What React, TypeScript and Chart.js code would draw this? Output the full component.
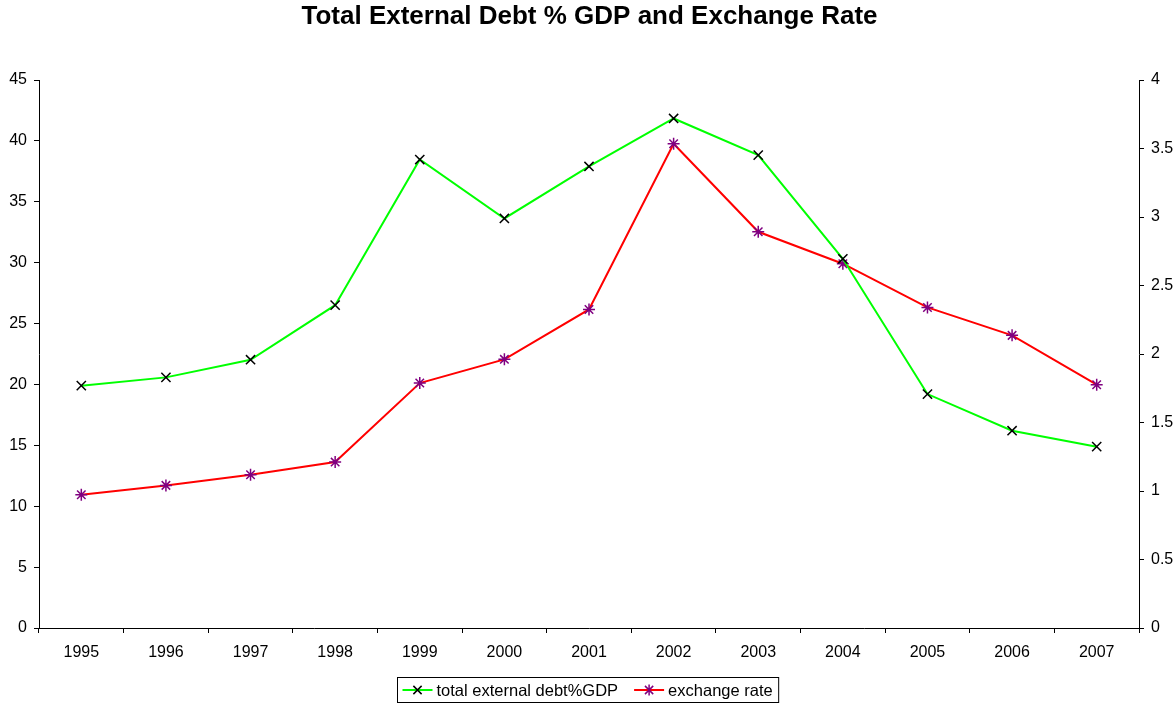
import React, { useEffect, useRef } from "react";
import { Chart, registerables } from "chart.js";

Chart.register(...registerables);

const TITLE = "Total External Debt % GDP and Exchange Rate";
const YEARS = ["1995", "1996", "1997", "1998", "1999", "2000", "2001", "2002", "2003", "2004", "2005", "2006", "2007"];
const DEBT_LABEL = "total external debt%GDP";
const DEBT = [19.9, 20.58, 22.03, 26.51, 38.47, 33.63, 37.9, 41.84, 38.83, 30.32, 19.21, 16.2, 14.89];
const RATE_LABEL = "exchange rate";
const RATE = [0.973, 1.041, 1.119, 1.211, 1.788, 1.961, 2.325, 3.535, 2.892, 2.659, 2.34, 2.136, 1.776];

const FONT = "Arial, 'Liberation Sans', sans-serif";

const titleLegendPlugin = {
  id: "titleLegend",
  afterDraw(chart: any) {
    const ctx = chart.ctx as CanvasRenderingContext2D;
    ctx.save();
    ctx.fillStyle = "#000";
    ctx.font = `bold 26px ${FONT}`;
    ctx.textAlign = "center";
    ctx.textBaseline = "middle";
    ctx.fillText(TITLE, 589.5, 17);

    // legend
    ctx.font = `16.5px ${FONT}`;
    const items = chart.data.datasets.map((d: any) => ({
      label: d.label,
      color: d.borderColor,
      pColor: d.pointBorderColor,
      style: d.pointStyle,
      tw: ctx.measureText(d.label).width,
    }));
    const lineLen = 30;
    const gapLT = 4;
    const gapItems = 16;
    const padL = 5;
    const padR = 6;
    let total = padL + padR;
    items.forEach((it: any, i: number) => {
      total += lineLen + gapLT + it.tw + (i < items.length - 1 ? gapItems : 0);
    });
    const left = Math.round(587.5 - total / 2) + 0.5;
    const top = 677.5;
    const h = 25;
    ctx.strokeStyle = "#000";
    ctx.lineWidth = 1;
    ctx.strokeRect(left, top, total, h);
    let x = left + padL;
    const cy = top + h / 2;
    items.forEach((it: any) => {
      ctx.strokeStyle = it.color;
      ctx.lineWidth = 2;
      ctx.beginPath();
      ctx.moveTo(x, cy);
      ctx.lineTo(x + lineLen, cy);
      ctx.stroke();
      const mx = x + lineLen / 2;
      ctx.strokeStyle = it.pColor;
      ctx.lineWidth = 1.5;
      const r = 5.5;
      ctx.beginPath();
      ctx.moveTo(mx - r * 0.75, cy - r * 0.75);
      ctx.lineTo(mx + r * 0.75, cy + r * 0.75);
      ctx.moveTo(mx + r * 0.75, cy - r * 0.75);
      ctx.lineTo(mx - r * 0.75, cy + r * 0.75);
      if (it.style === "star") {
        ctx.moveTo(mx, cy - r);
        ctx.lineTo(mx, cy + r);
      }
      ctx.stroke();
      ctx.fillStyle = "#000";
      ctx.textAlign = "left";
      ctx.textBaseline = "middle";
      ctx.fillText(it.label, x + lineLen + gapLT, cy + 1);
      x += lineLen + gapLT + it.tw + gapItems;
    });
    ctx.restore();
  },
};

export default function App() {
  const ref = useRef<HTMLCanvasElement | null>(null);
  useEffect(() => {
    document.body.style.margin = "0";
    const canvas = ref.current!;
    const chart = new Chart(canvas, {
      type: "line",
      data: {
        labels: YEARS,
        datasets: [
          {
            label: DEBT_LABEL,
            data: DEBT,
            yAxisID: "y",
            borderColor: "#00FF00",
            backgroundColor: "#00FF00",
            borderWidth: 2,
            pointStyle: "crossRot",
            pointRadius: 6.5,
            pointBorderColor: "#000000",
            pointBorderWidth: 1.5,
            tension: 0,
          },
          {
            label: RATE_LABEL,
            data: RATE,
            yAxisID: "y1",
            borderColor: "#FF0000",
            backgroundColor: "#FF0000",
            borderWidth: 2,
            pointStyle: "star",
            pointRadius: 6,
            pointBorderColor: "#800080",
            pointBorderWidth: 1.5,
            tension: 0,
          },
        ],
      },
      options: {
        animation: false,
        responsive: false,
        devicePixelRatio: 1,
        layout: { padding: { top: 80, left: 0, right: 0, bottom: 0 } },
        plugins: {
          legend: { display: false },
          title: { display: false },
          tooltip: { enabled: false },
        },
        scales: {
          x: {
            offset: true,
            grid: { offset: true, drawOnChartArea: false, tickLength: 5, color: "#000", lineWidth: 1 },
            border: { color: "#000", width: 1 },
            ticks: { color: "#000", font: { family: FONT, size: 16 }, padding: 10, maxRotation: 0, autoSkip: false },
            afterFit: (s: any) => { s.height = 76; },
          },
          y: {
            position: "left",
            min: 0,
            max: 45,
            ticks: { stepSize: 5, color: "#000", font: { family: FONT, size: 16 }, padding: 7 },
            grid: { drawOnChartArea: false, tickLength: 5, color: "#000" },
            border: { color: "#000", width: 1 },
            afterFit: (s: any) => { s.width = 39; },
          },
          y1: {
            position: "right",
            min: 0,
            max: 4,
            ticks: {
              stepSize: 0.5,
              color: "#000",
              font: { family: FONT, size: 16 },
              padding: 7,
              callback: (v: any) => String(Number(v)),
            },
            grid: { drawOnChartArea: false, tickLength: 5, color: "#000" },
            border: { color: "#000", width: 1 },
            afterFit: (s: any) => { s.width = 37; },
          },
        },
      },
      plugins: [titleLegendPlugin],
    });
    return () => chart.destroy();
  }, []);
  return (
    <div style={{ position: "absolute", left: 0, top: 0, width: 1176, height: 704, background: "#fff" }}>
      <canvas ref={ref} width={1176} height={704} style={{ display: "block" }} />
    </div>
  );
}
